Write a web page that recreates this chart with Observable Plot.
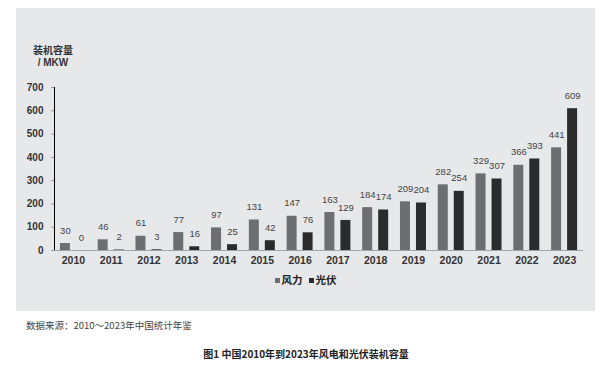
<!DOCTYPE html>
<html>
<head>
<meta charset="utf-8">
<script src="https://cdn.jsdelivr.net/npm/d3@7"></script>
<script src="https://cdn.jsdelivr.net/npm/@observablehq/plot@0.6"></script>
<style>
  body { margin: 0; background: #ffffff; width: 600px; height: 369px; overflow: hidden; position: relative; }
  #panel { position: absolute; left: 16px; top: 8px; width: 579px; height: 303px; background: #e7e8ea; }
  #chart { position: absolute; left: 0; top: 0; }
  .yt { position: absolute; left: 14px; width: 46px; height: 12px; text-align: center; font-weight: bold; font-size: 10px; line-height: 12px; color: #333; }
  #yt1 { top: 36px; font-family: "Noto Sans CJK SC", sans-serif; }
  #yt2 { top: 49px; font-family: "Liberation Sans", Arial, sans-serif; }
  #legend { position: absolute; left: 0; top: 264px; width: 579px; text-align: center; font: bold 10.5px "Noto Sans CJK SC", sans-serif; color: #222; }
  #legend span.sw { display: inline-block; width: 5px; height: 5px; margin: 0 2px 2px 0; vertical-align: middle; }
  #legend span.item { margin: 0 3px; }
  #source { position: absolute; left: 26px; top: 318px; font: 9.5px "Noto Sans CJK SC", sans-serif; color: #444; }
  #caption { position: absolute; left: 0; top: 346px; width: 612px; text-align: center; font: bold 10px "Noto Sans CJK SC", sans-serif; color: #222; }
  #chart svg { overflow: visible; }
  #chart [aria-label^="y-axis"], #chart [aria-label^="fx-axis"] { color: #9a9a9a; }
  #chart [aria-label^="y-axis"] text, #chart [aria-label^="fx-axis"] text,
  #chart [aria-label="y-axis tick label"], #chart [aria-label="fx-axis tick label"] { fill: #333; }
</style>
</head>
<body>
<div id="panel">
  <div id="chart"></div>
  <div class="yt" id="yt1">装机容量</div>
  <div class="yt" id="yt2">/ MKW</div>
  <div id="legend"></div>
</div>
<div id="source">数据来源：2010～2023年中国统计年鉴</div>
<div id="caption">图1 中国2010年到2023年风电和光伏装机容量</div>
<script>
const years = [2010, 2011, 2012, 2013, 2014, 2015, 2016, 2017, 2018, 2019, 2020, 2021, 2022, 2023];
const wind  = [30, 46, 61, 77, 97, 131, 147, 163, 184, 209, 282, 329, 366, 441];
const solar = [0, 2, 3, 16, 25, 42, 76, 129, 174, 204, 254, 307, 393, 609];
const seriesNames = ["风力", "光伏"];
const seriesColors = ["#6d6e71", "#2b2b2b"];
const yTicks = [0, 100, 200, 300, 400, 500, 600, 700];

const data = [];
years.forEach((yr, i) => {
  data.push({year: yr, series: seriesNames[0], value: wind[i]});
  data.push({year: yr, series: seriesNames[1], value: solar[i]});
});

const chart = Plot.plot({
  width: 579,
  height: 262,
  marginLeft: 38,
  marginRight: 12,
  marginTop: 79,
  marginBottom: 20,
  style: {background: "transparent", fontFamily: "'Liberation Sans', Arial, sans-serif"},
  fx: {domain: years, padding: 0, round: false, label: null, tickSize: 0, tickPadding: 6, axis: "bottom", tickFormat: d => String(d)},
  x: {domain: seriesNames, axis: null, round: false, paddingInner: 0.375, paddingOuter: 0.369},
  y: {domain: [0, 700], ticks: yTicks, tickSize: 3, tickPadding: 8, label: null, line: true},
  color: {domain: seriesNames, range: seriesColors},
  marks: [
    Plot.barY(data, {fx: "year", x: "series", y: "value", fill: "series"}),
    Plot.ruleY([0], {stroke: "#a3a3a3", strokeWidth: 1.2}),
    Plot.text(data, {fx: "year", x: "series", y: "value", text: d => String(d.value), dy: -13,
      fill: "#444", fontSize: 9.5, fontFamily: "'Liberation Sans', Arial, sans-serif"})
  ]
});
document.getElementById("chart").appendChild(chart);

chart.querySelectorAll('[aria-label^="y-axis"] text, [aria-label="y-axis tick label"] text').forEach(t => {
  t.style.fontWeight = "bold"; t.style.fontSize = "10px";
});
chart.querySelectorAll('[aria-label^="fx-axis"] text, [aria-label="fx-axis tick label"] text').forEach(t => {
  t.style.fontWeight = "bold"; t.style.fontSize = "10.5px";
});

const lg = document.getElementById("legend");
seriesNames.forEach((name, i) => {
  const item = document.createElement("span");
  item.className = "item";
  const sw = document.createElement("span");
  sw.className = "sw";
  sw.style.background = seriesColors[i];
  item.appendChild(sw);
  item.appendChild(document.createTextNode(name));
  lg.appendChild(item);
});
</script>
</body>
</html>
